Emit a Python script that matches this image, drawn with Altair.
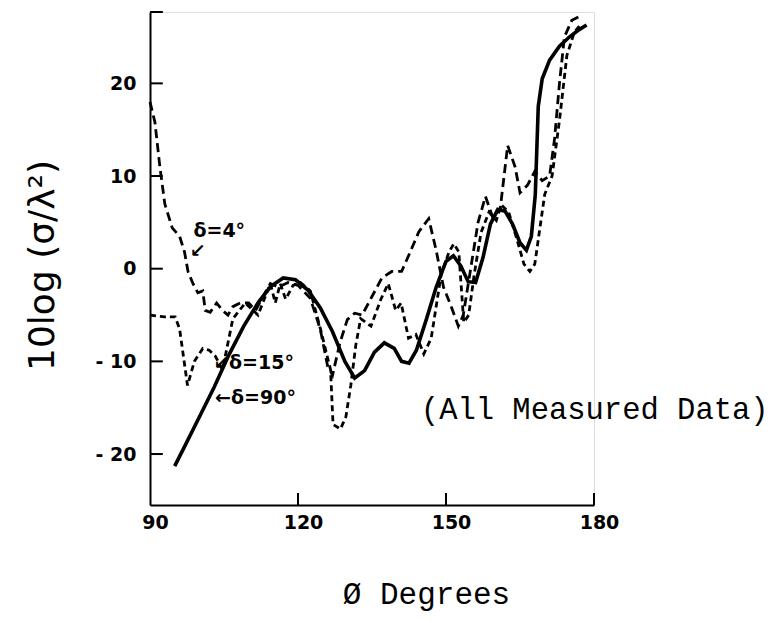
import altair as alt
import pandas as pd

# ---- data ----
x_d90 = [95, 97, 100, 103, 106, 109, 112, 114.5, 117, 119.5, 122, 124.5, 127, 129.5, 131.5, 133.5,
         135.5, 137.5, 139.5, 141, 142.5, 144, 146, 148, 150, 151.5, 153, 154.5, 156, 157.5, 159,
         160.5, 162, 163.5, 165, 166.3, 167.3, 168.1, 168.7, 169.5, 171, 173, 175, 177, 178.5]
y_d90 = [-21.3, -19.2, -16.0, -12.8, -9.3, -6.2, -3.6, -1.9, -1.0, -1.2, -2.3, -4.2, -6.8, -10.0,
         -11.8, -11.0, -9.0, -8.0, -8.6, -10.0, -10.2, -8.8, -5.5, -2.0, 0.8, 1.4, 0.3, -1.4, -1.5,
         1.2, 4.8, 6.4, 6.2, 4.8, 2.8, 2.0, 3.5, 8.0, 17.5, 20.5, 22.5, 24.0, 25.0, 25.8, 26.3]

x_d4 = [90, 91, 92, 93, 94.5, 96, 97, 97.7, 98.7, 99.7, 100.7, 101.2, 102.2, 103.5, 104.7, 105.8,
        106.8, 108.3, 110, 111.4, 112.9, 114.4, 116, 118, 120, 122.5, 124.5, 126, 127, 128.5, 130,
        131.5, 133, 135, 137, 139, 141, 142.5, 144.5, 146.5, 148, 149.5, 151, 152.5, 153.5, 155,
        156.5, 158, 159.5, 161, 162.5, 164, 165, 166.5, 168, 169.5, 171, 172, 173, 174, 175.5, 177]
y_d4 = [18, 15.8, 11, 7, 4.4, 3.5, 1.8, -0.3, -1.6, -2.6, -2.4, -4.5, -4.7, -3.7, -4.5, -5, -4.1,
        -3.7, -3.7, -4.5, -3, -1.6, -2, -1.5, -1.8, -3.2, -6.5, -10.5, -11.5, -8, -5.5, -4.8, -5,
        -3, -1, -0.3, -0.3, 1.5, 4, 5.4, 2, -2, -4, -6.2, -5, 0, 5, 7.8, 5.5, 6.5, 13.3, 11, 8.2,
        9, 10.5, 9.5, 10, 14, 20, 25, 26.8, 27.2]

x_d15 = [90, 93, 95.1, 96, 97.6, 99, 100.7, 102, 103.2, 104.7, 106.8, 109.3, 111.9, 114.4, 115.4,
         116.4, 117.5, 119, 120.5, 122.5, 124.6, 126.6, 127.1, 128.6, 129.7, 130.7, 131.7, 132.7,
         134.8, 136.8, 138.3, 139.8, 140.9, 142.4, 143.9, 145.5, 147, 148, 149, 150.6, 151.6,
         152.6, 153.6, 154.6, 155.7, 157.1, 158.7, 160.2, 161.2, 162.7, 164.2, 165.8, 167, 168,
         168.8, 170, 171.5, 173, 174.5, 176, 177.5]
y_d15 = [-5, -5.2, -5.2, -6.5, -12.6, -10, -8.6, -8.8, -9.4, -10.9, -5.4, -3.7, -5, -1.6, -3.7,
         -1.6, -3.3, -1.8, -1.5, -2.4, -6.6, -10.9, -16.8, -17.3, -16, -12.6, -8.3, -5.4, -6.2,
         -3.3, -1.6, -4.5, -3.7, -7.5, -7.1, -9.2, -7.5, -4.1, -0.7, 1.8, 2.7, 1.8, -5.8, -5,
         -0.7, 3.9, 6.1, 5.2, 6.9, 6.1, 3.5, 0.5, -0.3, 0.5, 3.5, 8, 10, 16, 23, 25.5, 26.5]

x_ticks = [90, 120, 150, 180]
y_ticks = [-20, -10, 0, 10, 20]

rows = []
for name, xs_, ys_ in [("d90", x_d90, y_d90), ("d4", x_d4, y_d4), ("d15", x_d15, y_d15)]:
    for i, (a, b) in enumerate(zip(xs_, ys_)):
        rows.append({"series": name, "phi": a, "val": b, "order": i})
df = pd.DataFrame(rows)

X_DOMAIN = [90, 180]
Y_DOMAIN = [-25.5, 27.7]
xsc = alt.Scale(domain=X_DOMAIN, nice=False, zero=False)
ysc = alt.Scale(domain=Y_DOMAIN, nice=False, zero=False)

HAND = "DejaVu Sans"
MONO = "Liberation Mono"

x_axis = alt.Axis(values=x_ticks, ticks=False, grid=False, domain=True, domainColor="black",
                  domainWidth=2, labelFont=HAND, labelFontWeight="bold", labelFontSize=19,
                  labelColor="black", labelPadding=8, labelOffset=5, labelFlush=False,
                  title="Ø Degrees", titleFont=MONO, titleFontSize=31, titleFontWeight="normal",
                  titleColor="black", titleX=276, titleY=89, titleAlign="center",
                  titleBaseline="middle")
y_axis = alt.Axis(values=y_ticks, ticks=False, grid=False, domain=True, domainColor="black",
                  domainWidth=2, labelFont=HAND, labelFontWeight="bold", labelFontSize=19,
                  labelColor="black", labelPadding=14, labelFlush=False,
                  labelExpr="datum.value < 0 ? '- ' + abs(datum.value) : datum.label",
                  title="10log (σ/λ²)", titleFont=HAND, titleFontSize=36,
                  titleFontWeight="normal", titleColor="black", titleAngle=270, titleX=-108,
                  titleY=253, titleAlign="center", titleBaseline="middle")

base = alt.Chart(df)

def series_line(name, **mk):
    return base.transform_filter(alt.datum.series == name).mark_line(color="black", **mk).encode(
        x=alt.X("phi:Q", scale=xsc, axis=x_axis),
        y=alt.Y("val:Q", scale=ysc, axis=y_axis),
        order="order:Q",
    )

l90 = series_line("d90", strokeWidth=3.6)
l4 = series_line("d4", strokeWidth=2.8, strokeDash=[9, 5])
l15 = series_line("d15", strokeWidth=2.8, strokeDash=[6, 4])

xt = alt.Chart(pd.DataFrame({"phi": x_ticks[1:]})).mark_rule(color="black", strokeWidth=2).encode(
    x=alt.X("phi:Q", scale=xsc), y=alt.datum(-25.5), y2=alt.datum(-24.2))
yt = alt.Chart(pd.DataFrame({"val": y_ticks + [27.7]})).mark_rule(color="black", strokeWidth=2).encode(
    y=alt.Y("val:Q", scale=ysc), x=alt.datum(90), x2=alt.datum(92.6))

def note(txt, x, y, size=19, font=HAND, weight="bold", align="left"):
    return alt.Chart(pd.DataFrame({"t": [txt]})).mark_text(
        font=font, fontSize=size, fontWeight=weight, color="black", align=align,
        baseline="middle").encode(text="t:N", x=alt.datum(x), y=alt.datum(y))

n1 = note("δ=4°", 98.8, 4.1)
n1a = note("↙", 98.0, 1.9, size=19)
n2 = note("↙δ=15°", 102.8, -10.2)
n3 = note("←δ=90°", 103.2, -13.9)
n4 = note("(All Measured Data)", 144.9, -15.2, size=30.5, font=MONO, weight="normal")

chart = alt.layer(l4, l15, l90, xt, yt, n1, n1a, n2, n3, n4).properties(
    width=444, height=493,
    autosize=alt.AutoSizeParams(type="none"),
    padding={"left": 142, "top": 4, "right": 182, "bottom": 108},
).configure_view(stroke=None).configure(background="white")

chart.save("out.html", embed_options={"renderer": "svg", "actions": False})
